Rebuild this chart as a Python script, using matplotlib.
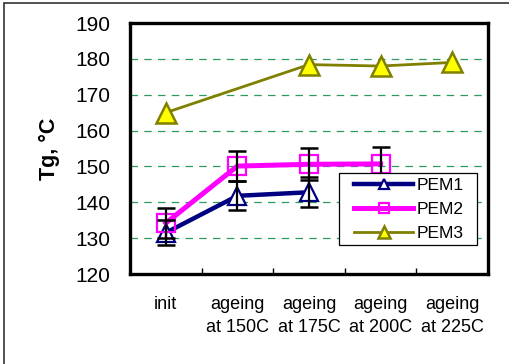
import numpy as np
import matplotlib.pyplot as plt
from matplotlib.patches import Rectangle

plt.rcParams['font.family'] = ['Liberation Sans', 'DejaVu Sans']

# data
categories = ['init', 'ageing\nat 150C', 'ageing\nat 175C', 'ageing\nat 200C', 'ageing\nat 225C']
pem1 = [131.5, 141.8, 142.8]
pem1_err = [3.5, 4.0, 4.2]
pem2 = [134.2, 150.1, 150.6, 150.7]
pem2_err = [4.2, 4.2, 4.5, 4.6]
pem3 = [165.0, None, 178.4, 178.0, 179.0]
yticks = [120, 130, 140, 150, 160, 170, 180, 190]

fig = plt.figure(figsize=(5.09, 3.64), dpi=100)
ax = fig.add_axes([130/509, 1-274/364, 358/509, 251/364])

x1 = np.arange(len(pem1))
x2 = np.arange(len(pem2))
x3 = np.array([i for i, v in enumerate(pem3) if v is not None])
y3 = np.array([v for v in pem3 if v is not None])

ax.plot(x1, pem1, color='#000080', lw=3.2, marker='^', ms=13, mfc='white',
        mec='#000080', mew=1.6, label='PEM1', zorder=3)
ax.plot(x2, pem2, color='#ff00ff', lw=3.6, marker='s', ms=13, mfc='none',
        mec='#ff00ff', mew=1.6, label='PEM2', zorder=3)
ax.plot(x3, y3, color='#808000', lw=2, marker='^', ms=14.5, mfc='#ffff00',
        mec='#808000', mew=1.8, label='PEM3', zorder=3)

ax.errorbar(x1, pem1, yerr=pem1_err, fmt='none', ecolor='black', elinewidth=1.6,
            capsize=6.5, capthick=1.8, zorder=4)
ax.errorbar(x2, pem2, yerr=pem2_err, fmt='none', ecolor='black', elinewidth=1.6,
            capsize=6.5, capthick=1.8, zorder=4)

ax.set_xlim(-0.5, 4.5)
ax.set_ylim(120, 190)
ax.set_yticks(yticks)
ax.set_xticks(np.arange(len(categories)))
ax.set_xticklabels(categories, fontsize=13, linespacing=1.45)
ax.set_xticks(np.arange(0.5, 4.5, 1), minor=True)
ax.tick_params(axis='x', which='major', length=0, pad=16)
ax.tick_params(axis='x', which='minor', direction='in', length=4, width=1)
ax.tick_params(axis='y', length=0, pad=14, labelsize=15)

for yv in yticks[1:-1]:
    ax.axhline(yv, color='#2e9a5e', lw=0.9, ls=(0, (6, 5)), zorder=1)

for s in ax.spines.values():
    s.set_linewidth(2.4)
    s.set_color('black')

ax.set_ylabel('Tg, °C', fontsize=15.5, fontweight='bold', labelpad=11)

# legend box drawn separately so its padding matches the original
ax.add_patch(Rectangle(((339-130)/358, (274-245)/251), 138/358, 72/251,
                       transform=ax.transAxes, facecolor='white',
                       edgecolor='black', lw=0.9, zorder=5))
leg = ax.legend(loc='upper left', bbox_to_anchor=((354-130)/358, (274-178)/251),
                borderaxespad=0, fontsize=12.5, markerscale=0.55, handlelength=3.4,
                handletextpad=0.2, labelspacing=0.5, borderpad=0, frameon=False)
leg.set_zorder(6)

# outer frame of the original figure
fig.patches.append(Rectangle((4/509, -0.05), 1.2, 1 - 3/364 + 0.05,
                             transform=fig.transFigure, fill=False,
                             edgecolor='#333333', lw=1.2))

fig.savefig('out.png', dpi=100)
